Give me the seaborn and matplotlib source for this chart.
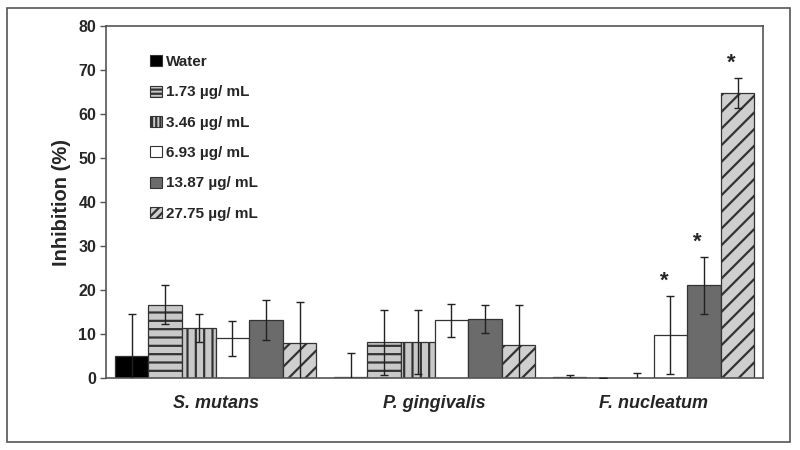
import matplotlib
matplotlib.use("Agg")
import matplotlib.pyplot as plt
from matplotlib.patches import Rectangle
import seaborn as sns
import pandas as pd
import numpy as np

# data
bacteria = ["S. mutans", "P. gingivalis", "F. nucleatum"]
doses = ["Water", "1.73 \u00b5g/ mL", "3.46 \u00b5g/ mL", "6.93 \u00b5g/ mL",
         "13.87 \u00b5g/ mL", "27.75 \u00b5g/ mL"]
s_mutans = [5.0, 16.7, 11.4, 9.0, 13.2, 8.0]
s_mutans_err = [9.6, 4.4, 3.2, 4.0, 4.6, 9.2]
p_ging = [0.3, 8.1, 8.1, 13.1, 13.4, 7.4]
p_ging_err = [5.3, 7.4, 7.3, 3.7, 3.2, 9.1]
f_nuc = [0.2, 0.0, 0.0, 9.8, 21.1, 64.8]
f_nuc_err = [0.4, 0.0, 1.1, 8.9, 6.5, 3.5]
signif = [(2, 3), (2, 4), (2, 5)]  # (bacterium index, dose index) with *

rows = []
for b, vals, errs in zip(bacteria, [s_mutans, p_ging, f_nuc],
                         [s_mutans_err, p_ging_err, f_nuc_err]):
    for d, v, e in zip(doses, vals, errs):
        rows.append({"Bacteria": b, "Dose": d, "Inhibition": v, "Err": e})
df = pd.DataFrame(rows)

sns.set_style("white")
plt.rcParams["font.family"] = ["Liberation Sans", "DejaVu Sans"]
plt.rcParams["hatch.linewidth"] = 1.6
plt.rcParams["hatch.color"] = "#3a3a3a"

fig = plt.figure(figsize=(8, 4.5), dpi=100)
ax = fig.add_axes([0.1325, 0.16, 0.8215, 0.782])

faces = ["#000000", "#c9c9c9", "#c9c9c9", "#ffffff", "#6b6b6b", "#cfcfcf"]
hatches = [None, "--", "||", None, None, "//"]

sns.barplot(data=df, x="Bacteria", y="Inhibition", hue="Dose", order=bacteria,
            hue_order=doses, palette=faces, saturation=1, width=0.92,
            errorbar=None, edgecolor="#333333", linewidth=0.9, ax=ax)

for cont, h, d in zip(ax.containers, hatches, doses):
    errs = df[df["Dose"] == d].set_index("Bacteria").loc[bacteria]
    xs = []
    for bar in cont:
        if h:
            bar.set_hatch(h)
        xs.append(bar.get_x() + bar.get_width() / 2)
    ax.errorbar(xs, errs["Inhibition"], yerr=errs["Err"], fmt="none",
                ecolor="#222222", elinewidth=1, capsize=3, capthick=1, zorder=5)

# significance stars
for bi, di in signif:
    bar = ax.containers[di][bi]
    v = bar.get_height()
    e = df[(df["Bacteria"] == bacteria[bi]) & (df["Dose"] == doses[di])]["Err"].iloc[0]
    ax.text(bar.get_x() + bar.get_width() / 2 - 0.03, v + e + 3.2, "*",
            ha="center", va="center", fontsize=16, fontweight="bold")

ax.set_ylim(0, 80)
ax.set_xlim(-0.5, 2.5)
ax.set_yticks(range(0, 81, 10))
ax.tick_params(axis="y", direction="out", length=4, width=1, color="#555555",
               left=True, labelsize=11.5, pad=3)
ax.tick_params(axis="x", length=0, labelsize=13, pad=12)
for lab in ax.get_yticklabels():
    lab.set_fontweight("bold")
for lab in ax.get_xticklabels():
    lab.set_fontweight("bold")
    lab.set_fontstyle("italic")
ax.set_xlabel("")
ax.set_ylabel("Inhibition (%)", fontsize=14.5, fontweight="bold", labelpad=5)
for sp in ax.spines.values():
    sp.set_color("#555555")
    sp.set_linewidth(1.2)

leg = ax.legend(loc="upper left", bbox_to_anchor=(0.058, 0.935), frameon=False,
                prop={"weight": "bold", "size": 11}, handlelength=0.75,
                handleheight=0.75, handletextpad=0.3, labelspacing=1.07,
                borderaxespad=0)
for hnd, h in zip(leg.legend_handles, hatches):
    hnd.set_linewidth(0.8)
    hnd.set_edgecolor("#333333")
    if h:
        hnd.set_hatch(h * 2)

# outer frame of the figure
fig.patches.append(Rectangle((7 / 800, 8 / 450), 783 / 800, 434 / 450,
                             transform=fig.transFigure, fill=False,
                             edgecolor="#555555", linewidth=1.2))

fig.savefig("out.png", dpi=100)
